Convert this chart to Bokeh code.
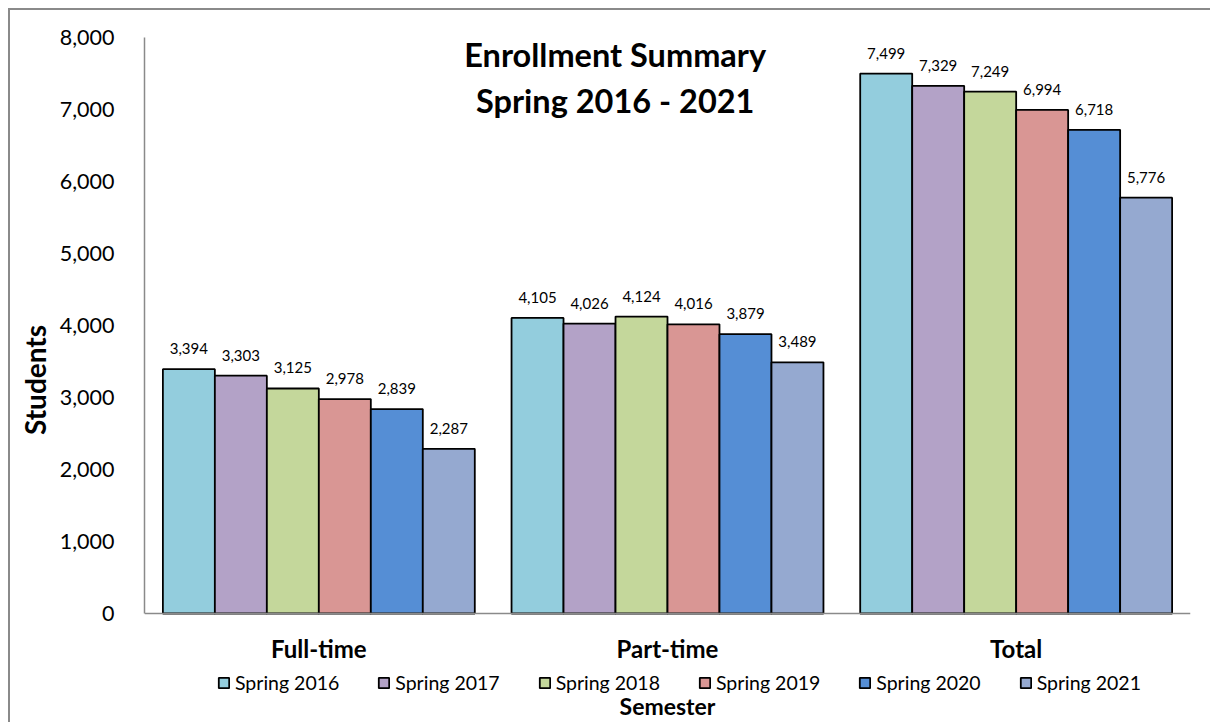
from bokeh.plotting import figure
from bokeh.models import (ColumnDataSource, Range1d, Legend, LegendItem, Label, Span,
                          NumeralTickFormatter, FixedTicker, LabelSet)
from bokeh.core.properties import value
from bokeh.embed import file_html
from bokeh.resources import INLINE

categories = ["Full-time", "Part-time", "Total"]
semesters = ["Spring 2016", "Spring 2017", "Spring 2018", "Spring 2019", "Spring 2020", "Spring 2021"]
values = {
    "Spring 2016": [3394, 4105, 7499],
    "Spring 2017": [3303, 4026, 7329],
    "Spring 2018": [3125, 4124, 7249],
    "Spring 2019": [2978, 4016, 6994],
    "Spring 2020": [2839, 3879, 6718],
    "Spring 2021": [2287, 3489, 5776],
}
colors = ["#93CDDD", "#B3A2C7", "#C4D79B", "#D99694", "#558ED5", "#95A9D0"]
y_ticks = [0, 1000, 2000, 3000, 4000, 5000, 6000, 7000, 8000]
title_lines = ["Enrollment Summary", "Spring 2016 - 2021"]

FONT = "Lato"
bar_w = 0.1491
Y_MIN = -1514

p = figure(frame_width=1046, frame_height=685, output_backend="svg", toolbar_location=None,
           x_range=Range1d(0, 3), y_range=Range1d(Y_MIN, 8000),
           min_border_left=134, min_border_right=20, min_border_top=27, min_border_bottom=0)
p.styles = {"margin-left": "8px", "margin-top": "8px",
            "border-left": "2px solid #8a8a8a", "border-top": "2px solid #8a8a8a"}
p.outline_line_color = None
p.grid.visible = False
p.background_fill_color = "white"
p.border_fill_color = "white"

items = []
for j, s in enumerate(semesters):
    xs = [i + 0.5 + (j - 2.5) * bar_w for i in range(len(categories))]
    src = ColumnDataSource(dict(x=xs, top=values[s], lab=[f"{v:,}" for v in values[s]]))
    r = p.vbar(x="x", top="top", width=bar_w, source=src, fill_color=colors[j],
               line_color="black", line_width=1.8)
    items.append(LegendItem(label=s, renderers=[r]))
    p.add_layout(LabelSet(x="x", y="top", text="lab", source=src, text_align="center",
                          text_baseline="alphabetic", y_offset=15, text_font=value(FONT),
                          text_font_size="15px", text_color="black"))

# baseline (category axis line)
p.add_layout(Span(location=0, dimension="width", line_color="#8a8a8a", line_width=1.5))

# category labels
csrc = ColumnDataSource(dict(x=[0.5, 1.5, 2.5], y=[-480] * 3, t=categories))
p.text(x="x", y="y", text="t", source=csrc, text_align="center", text_baseline="middle",
       text_font=value(FONT), text_font_size="24px", text_font_style="bold", text_color="black")

# Y axis
p.xaxis.visible = False
p.yaxis.bounds = (0, 8000)
p.yaxis.ticker = FixedTicker(ticks=y_ticks)
p.yaxis.formatter = NumeralTickFormatter(format="0,0")
p.yaxis.major_tick_line_color = None
p.yaxis.minor_tick_line_color = None
p.yaxis.axis_line_color = "#8a8a8a"
p.yaxis.axis_line_width = 1.5
p.yaxis.major_label_text_font = FONT
p.yaxis.major_label_text_font_size = "21.5px"
p.yaxis.major_label_text_color = "black"
p.yaxis.major_label_standoff = 24
p.yaxis.axis_label = "Students"
p.yaxis.axis_label_text_font = FONT
p.yaxis.axis_label_text_font_size = "28px"
p.yaxis.axis_label_text_font_style = "bold"
p.yaxis.axis_label_text_color = "black"
p.yaxis.axis_label_standoff = 5

legend = Legend(items=items, orientation="horizontal", location=(73, 28),
                label_text_font=FONT, label_text_font_size="19.5px", label_text_color="black",
                glyph_width=13, glyph_height=13, label_standoff=5, spacing=38, label_height=20,
                border_line_color=None, background_fill_alpha=0, padding=0, margin=0)
p.add_layout(legend)

p.add_layout(Label(x=1.5, y=-1290, text="Semester", text_align="center",
                   text_baseline="middle", text_font=FONT, text_font_size="23px",
                   text_font_style="bold", text_color="black"))

for line, yv in zip(title_lines, [7760, 7130]):
    p.add_layout(Label(x=1.35, y=yv, text=line, text_align="center",
                       text_baseline="middle", text_font=FONT, text_font_size="32.5px",
                       text_font_style="bold", text_color="black"))

open("out.html", "w").write(file_html(p, INLINE))
